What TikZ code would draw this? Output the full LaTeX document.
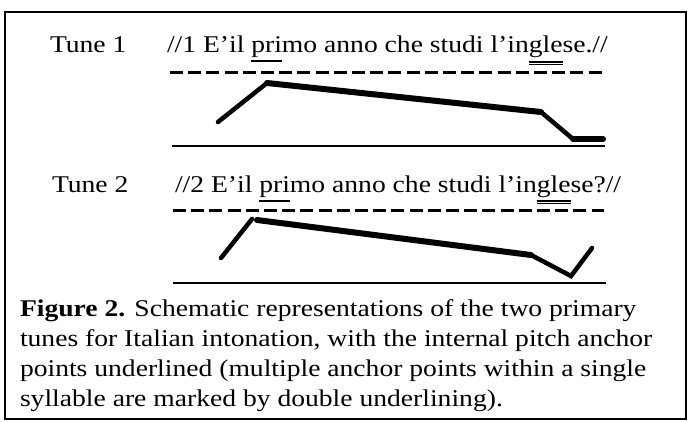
\documentclass[tikz,border=0pt]{standalone}
\usepackage{fontspec}
\setmainfont{Liberation Serif}[FakeStretch=1.15]
\begin{document}
\begin{tikzpicture}[x=1pt,y=-1pt,
  txt/.style={inner sep=0pt,outer sep=0pt,anchor=base west,font=\fontsize{24}{29.7}\selectfont},
  frame/.style={line width=2.4pt},
  uline/.style={line width=1.8pt},
  dashline/.style={line width=3pt,dash pattern=on 13pt off 5.2pt},
  solidline/.style={line width=2.6pt},
  thin/.style={line width=4.5pt,line cap=round},
  thick/.style={line width=6pt,line cap=round}]
\useasboundingbox (0,0) rectangle (688,421);
\draw[frame] (5,12) rectangle (686,419);

% Tune 1
\node[txt] (l1) at (50,52) {Tune 1};
\node[txt] (s1a) at (167,52) {//1 E’il\ \null};
\node[txt] (s1b) at (s1a.base east) {pri};
\node[txt] (s1c) at (s1b.base east) {mo anno che studi l’in};
\node[txt] (s1d) at (s1c.base east) {gle};
\node[txt] (s1e) at (s1d.base east) {se.//};
\draw[uline] ([yshift=-9pt]s1b.base west) -- ([yshift=-9pt]s1b.base east);
\draw[uline] ([yshift=-10pt]s1d.base west) -- ([yshift=-10pt]s1d.base east);
\draw[uline] ([yshift=-12.5pt]s1d.base west) -- ([yshift=-12.5pt]s1d.base east);
\coordinate (d1a) at (170,72); \coordinate (d1b) at (602,72);
\draw[dashline] (d1a) -- (d1b);
\coordinate (b1a) at (172,146); \coordinate (b1b) at (605,146);
\draw[solidline] (b1a) -- (b1b);
\coordinate (p1) at (218,122); \coordinate (p2) at (267,83);
\coordinate (p3) at (541,112); \coordinate (p4) at (573,139);
\coordinate (p5) at (603,139);
\draw[thin] (p1) -- (p2);
\draw[thick] (p2) -- (p3);
\draw[thin] (p3) -- (p4);
\draw[thick] (p4) -- (p5);

% Tune 2
\node[txt] (l2) at (52,192) {Tune 2};
\node[txt] (s2a) at (175,192) {//2 E’il\ \null};
\node[txt] (s2b) at (s2a.base east) {pri};
\node[txt] (s2c) at (s2b.base east) {mo anno che studi l’in};
\node[txt] (s2d) at (s2c.base east) {gle};
\node[txt] (s2e) at (s2d.base east) {se?//};
\draw[uline] ([yshift=-9pt]s2b.base west) -- ([yshift=-9pt]s2b.base east);
\draw[uline] ([yshift=-9pt]s2d.base west) -- ([yshift=-9pt]s2d.base east);
\draw[uline] ([yshift=-11.5pt]s2d.base west) -- ([yshift=-11.5pt]s2d.base east);
\coordinate (d2a) at (173,210); \coordinate (d2b) at (604,210);
\draw[dashline] (d2a) -- (d2b);
\coordinate (b2a) at (173,283); \coordinate (b2b) at (606,283);
\draw[solidline] (b2a) -- (b2b);
\coordinate (q1) at (221,258); \coordinate (q2) at (252,219);
\coordinate (q3) at (257,220); \coordinate (q4) at (531,255);
\coordinate (q5) at (571,276); \coordinate (q6) at (592,248);
\draw[thin] (q1) -- (q2);
\draw[thick] (q3) -- (q4);
\draw[thin] (q4) -- (q5) -- (q6);

% Caption
\node[txt,align=left] (cap) at (20,406) {\textbf{Figure 2.} Schematic representations of the two primary\\
tunes for Italian intonation, with the internal pitch anchor\\
points underlined (multiple anchor points within a single\\
syllable are marked by double underlining).};
\end{tikzpicture}
\end{document}
